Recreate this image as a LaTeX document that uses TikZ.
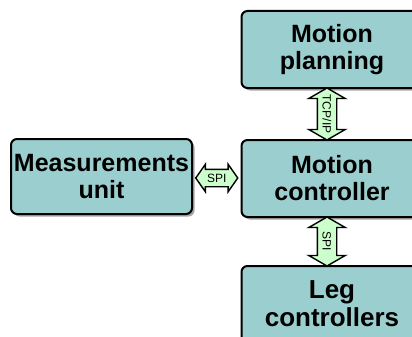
\documentclass[tikz,border=0pt]{standalone}
\usepackage{fontspec}
\setmainfont{Liberation Sans}
\usetikzlibrary{shapes.arrows,shadows,calc}

\definecolor{boxfill}{RGB}{155,206,206}
\definecolor{linkfill}{RGB}{204,255,204}

\tikzset{
  unit/.style={
    draw=black, line width=2pt, fill=boxfill, rounded corners=6pt,
    minimum width=181pt, minimum height=77pt, inner sep=0pt,
    align=center, font=\fontsize{25}{27}\selectfont\bfseries,
    drop shadow={shadow xshift=2.5pt, shadow yshift=-2.5pt,
                 fill=black, opacity=0.35}
  },
  link/.style={
    double arrow, draw=black, line width=1.4pt, fill=linkfill,
    double arrow tip angle=120, double arrow head extend=8.5pt,
    inner xsep=0pt, inner ysep=4.5pt, text height=9pt, text depth=0pt,
    font=\fontsize{12}{12}\selectfont
  },
  hlink/.style={
    link, inner ysep=3.5pt, double arrow head extend=5pt,
    double arrow tip angle=110
  }
}

\begin{document}
\begin{tikzpicture}[x=1pt,y=1pt]
  \useasboundingbox (0,0) rectangle (412,-337);
  \fill[white] (0,0) rectangle (412,-337);

  % functional blocks
  \node[unit] (mp) at (332,-49.5) {Motion\\planning};
  \node[unit] (mc) at (332,-178.5) {Motion\\controller};
  \node[unit, minimum height=75pt] (mu) at (101.5,-176.5) {Measurements\\unit};
  \node[unit, minimum height=76pt, font=\fontsize{26}{28}\selectfont\bfseries]
       (lc) at (332,-304) {Leg\\controllers};

  % communication links
  \node[link, rotate=-90, minimum height=52pt] (tcp)
       at ($($(mp.south)!0.5!(mc.north)$)+(-5,0)$) {\makebox[0pt]{TCP/IP}};
  \node[link, rotate=-90, minimum height=49pt] (spiv)
       at ($($(mc.south)!0.5!(lc.north)$)+(-5,0)$) {\makebox[0pt]{SPI}};
  \node[hlink, minimum height=42pt] (spih)
       at ($(mu.east)!0.5!(mc.west)+(0,-0.5)$) {\makebox[0pt]{SPI}};
\end{tikzpicture}
\end{document}
